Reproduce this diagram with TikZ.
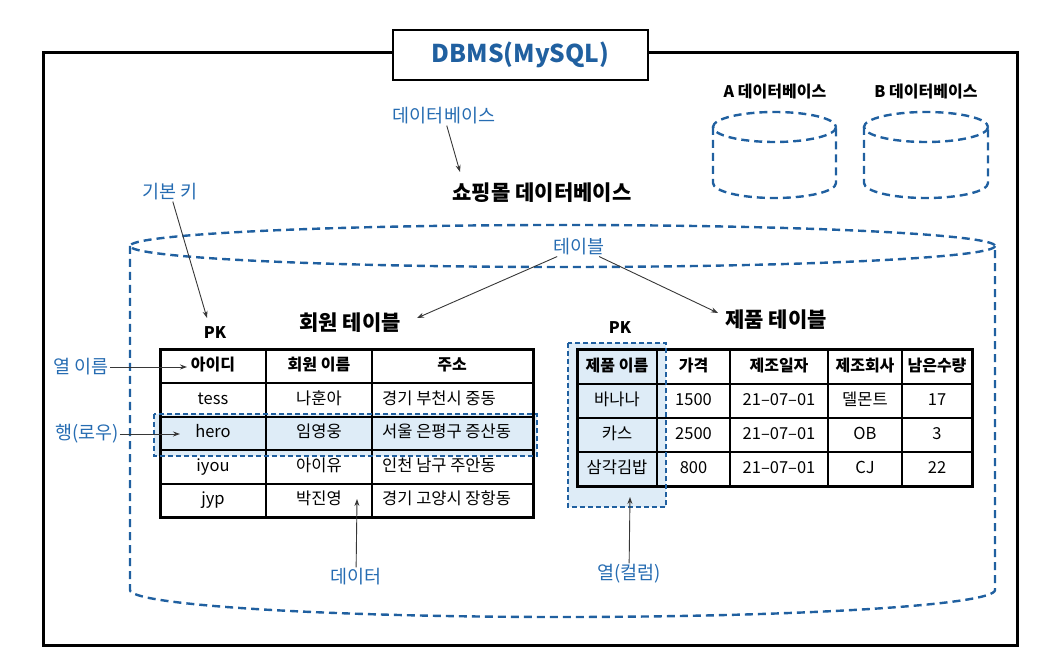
\documentclass[tikz,border=0pt]{standalone}
\usepackage{fontspec}
\setmainfont{Noto Sans CJK KR}
\usetikzlibrary{arrows.meta}
\definecolor{dbblue}{RGB}{32,96,160}
\definecolor{lblblue}{RGB}{38,108,178}
\definecolor{hlblue}{RGB}{222,236,247}
\definecolor{arrowgray}{RGB}{55,55,55}
\begin{document}
\begin{tikzpicture}[x=1pt,y=-1pt,
  bluelbl/.style={text=lblblue,font=\fontsize{18.5}{20}\selectfont,inner sep=1pt},
  ttl/.style={font=\bfseries\fontsize{21}{24}\selectfont,inner sep=1pt},
  smallttl/.style={font=\bfseries\fontsize{16}{18}\selectfont,inner sep=1pt},
  cell/.style={font=\fontsize{16.5}{19}\selectfont,inner sep=0pt,text height=12pt,text depth=3.5pt},
  hcell/.style={font=\bfseries\fontsize{16}{18}\selectfont,inner sep=0pt,text height=12pt,text depth=3.5pt},
  ptr/.style={draw=arrowgray,line width=0.9pt,-{Stealth[length=7pt,width=5pt]}},
  dashblue/.style={draw=dbblue,line width=2.4pt,dash pattern=on 8pt off 5pt},
  thindash/.style={draw=dbblue,line width=1.5pt,dash pattern=on 5pt off 3pt},
  thickline/.style={line width=3pt},
  gridline/.style={line width=1.8pt}]
\useasboundingbox (0,0) rectangle (1042,660);
% outer frame
\draw[thickline] (43,53) rectangle (1017,645);
% title box
\node[draw,line width=2.5pt,fill=white,minimum width=255pt,minimum height=50pt,inner sep=0pt,
  text=dbblue,font=\bfseries\fontsize{24.5}{28}\selectfont] (title) at (520.5,55) {DBMS(MySQL)};
% small cylinders
\draw[dashblue] (774.5,127) ellipse [x radius=61.5,y radius=15];
\draw[dashblue] (713,127) -- (713,183) arc[start angle=180,end angle=0,x radius=61.5,y radius=15] -- (836,127);
\draw[dashblue] (926,127) ellipse [x radius=62,y radius=15];
\draw[dashblue] (864,127) -- (864,183) arc[start angle=180,end angle=0,x radius=62,y radius=15] -- (988,127);
\node[smallttl] (dbA) at (775,92) {A 데이터베이스};
\node[smallttl] (dbB) at (926,92) {B 데이터베이스};
% big cylinder
\draw[dashblue] (562.5,246) ellipse [x radius=432.5,y radius=21];
\draw[dashblue] (130,246) -- (130,590) arc[start angle=180,end angle=0,x radius=432.5,y radius=27] -- (995,246);
% highlights
\fill[hlblue] (154,414) rectangle (537,456);
\fill[hlblue] (568,343) rectangle (666,507);
% table 1 grid
\draw[gridline] (266,350) -- (266,517) (372,350) -- (372,517)
  (160,383) -- (533,383) (160,417) -- (533,417) (160,450) -- (533,450) (160,484) -- (533,484);
\draw[thickline] (160,350) rectangle (533,517);
% table 2 grid
\draw[gridline] (730,350) -- (730,486) (828,350) -- (828,486) (902,350) -- (902,486)
  (577,418) -- (972,418) (577,452) -- (972,452);
\draw[line width=2.6pt] (657,350) -- (657,486) (577,384) -- (972,384);
\draw[thickline] (577,350) rectangle (972,486);
% dashed highlight borders
\draw[thindash] (154,414) rectangle (537,456);
\draw[thindash] (568,343) rectangle (666,507);
% table 1 text
\node[hcell] (m-0-1) at (213,366.5) {아이디};
\node[hcell] (m-0-2) at (319,366.5) {회원 이름};
\node[hcell] (m-0-3) at (452,366.5) {주소};
\foreach \id/\nm/\addr [count=\i] in {tess/나훈아/경기 부천시 중동,hero/임영웅/서울 은평구 증산동,iyou/아이유/인천 남구 주안동,jyp/박진영/경기 고양시 장항동}{
  \pgfmathsetmacro\yy{366.5+33.5*\i}
  \node[cell] (m-\i-1) at (213,\yy) {\id};
  \node[cell] (m-\i-2) at (319,\yy) {\nm};
  \node[cell,anchor=west] (m-\i-3) at (382,\yy) {\addr};
}
% table 2 text
\node[hcell] (p-0-1) at (617,367) {제품 이름};
\node[hcell] (p-0-2) at (693.5,367) {가격};
\node[hcell] (p-0-3) at (779,367) {제조일자};
\node[hcell] (p-0-4) at (865,367) {제조회사};
\node[hcell] (p-0-5) at (937,367) {남은수량};
\foreach \pn/\pr/\dt/\mk/\qt [count=\i] in {바나나/1500/21–07–01/델몬트/17,카스/2500/21–07–01/OB/3,삼각김밥/800/21–07–01/CJ/22}{
  \pgfmathsetmacro\yy{367+34*\i}
  \node[cell] (p-\i-1) at (617,\yy) {\pn};
  \node[cell] (p-\i-2) at (693.5,\yy) {\pr};
  \node[cell] (p-\i-3) at (779,\yy) {\dt};
  \node[cell] (p-\i-4) at (865,\yy) {\mk};
  \node[cell] (p-\i-5) at (937,\yy) {\qt};
}
% titles
\node[ttl] (shop) at (542,193) {쇼핑몰 데이터베이스};
\node[ttl] (mtable) at (350,323) {회원 테이블};
\node[ttl] (ptable) at (776,320) {제품 테이블};
\node[smallttl] (pk1) at (215,333) {PK};
\node[smallttl] (pk2) at (620,328) {PK};
% blue labels
\node[bluelbl] (lblDb) at (444,116) {데이터베이스};
\node[bluelbl] (lblKey) at (170,192) {기본 키};
\node[bluelbl] (lblTbl) at (579,247) {테이블};
\node[bluelbl] (lblColName) at (81,367) {열 이름};
\node[bluelbl] (lblRow) at (87,434) {행(로우)};
\node[bluelbl] (lblData) at (356,577) {데이터};
\node[bluelbl] (lblCol) at (629,574) {열(컬럼)};
% arrow tips
\coordinate (shopTip) at (460,172);
\coordinate (pkTip) at (207,318);
\coordinate (mtTip) at (417,318);
\coordinate (ptTip) at (718,313);
\coordinate (colNameTip) at (187,367);
\coordinate (rowTip) at (180,434);
\coordinate (dataTip) at (357,499);
\coordinate (colTip) at (630,497);
% arrows
\draw[ptr] (lblDb) -- (shopTip);
\draw[ptr] (lblKey) -- (pkTip);
\draw[ptr] (lblTbl) -- (mtTip);
\draw[ptr] (lblTbl) -- (ptTip);
\draw[ptr] (lblColName) -- (colNameTip);
\draw[ptr] (lblRow) -- (rowTip);
\draw[ptr] (lblData) -- (dataTip);
\draw[ptr] (lblCol) -- (colTip);
\end{tikzpicture}
\end{document}
